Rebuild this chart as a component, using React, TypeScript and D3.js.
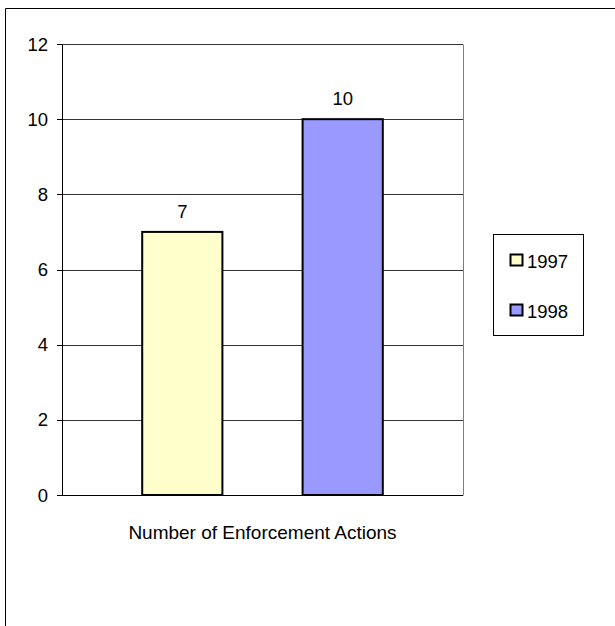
import React from "react";
import * as d3 from "d3";

const categories = ["Number of Enforcement Actions"];
const seriesNames = ["1997", "1998"];
const seriesValues = [7, 10];
const seriesColors = ["#FFFFCC", "#9999FF"];
const yTicks = [0, 2, 4, 6, 8, 10, 12];

const W = 615;
const H = 626;
const plot = { left: 62, top: 44, right: 463, bottom: 495 };
const FONT = "Arial, 'Liberation Sans', sans-serif";
const FS = 18.5;

export default function App() {
  const y = d3.scaleLinear().domain([0, 12]).range([plot.bottom, plot.top]);
  const x0 = d3.scaleBand().domain(categories).range([plot.left, plot.right]).padding(0);
  const c0 = x0(categories[0])!;
  const x1 = d3
    .scaleBand()
    .domain(seriesNames)
    .range([c0 + x0.bandwidth() / 5, c0 + (x0.bandwidth() * 4) / 5])
    .paddingInner(0.5);

  return (
    <svg
      width={W}
      height={H}
      style={{ position: "absolute", left: 0, top: 0, display: "block" }}
    >
      <rect x={0} y={0} width={W} height={H} fill="#fff" />
      {/* outer frame */}
      <line x1={5.5} y1={8.5} x2={W} y2={8.5} stroke="#000" strokeWidth={1} />
      <line x1={5.5} y1={8.5} x2={5.5} y2={H} stroke="#000" strokeWidth={1} />

      {/* gridlines */}
      {yTicks.map((t) => (
        <line
          key={"g" + t}
          x1={plot.left}
          x2={plot.right}
          y1={Math.round(y(t)) + 0.5}
          y2={Math.round(y(t)) + 0.5}
          stroke={t === 0 ? "#000" : "#333"}
          strokeWidth={1}
        />
      ))}
      {/* plot frame right */}
      <line x1={plot.right + 0.5} x2={plot.right + 0.5} y1={plot.top + 0.5} y2={plot.bottom + 0.5} stroke="#808080" strokeWidth={1} />
      {/* y axis */}
      <line x1={plot.left + 0.5} x2={plot.left + 0.5} y1={plot.top + 0.5} y2={plot.bottom + 0.5} stroke="#000" strokeWidth={1} />
      {yTicks.map((t) => (
        <g key={"t" + t}>
          <line
            x1={plot.left - 5}
            x2={plot.left}
            y1={Math.round(y(t)) + 0.5}
            y2={Math.round(y(t)) + 0.5}
            stroke="#000"
          />
          <text
            x={48}
            y={y(t)}
            dy="0.36em"
            textAnchor="end"
            fontFamily={FONT}
            fontSize={FS}
            fill="#000"
          >
            {t}
          </text>
        </g>
      ))}

      {/* bars */}
      {seriesNames.map((s, i) => {
        const bx = x1(s)!;
        const top = y(seriesValues[i]);
        return (
          <g key={"b" + s}>
            <rect
              x={bx}
              y={top}
              width={x1.bandwidth()}
              height={plot.bottom - top}
              fill={seriesColors[i]}
              stroke="#000"
              strokeWidth={2}
            />
            <text
              x={bx + x1.bandwidth() / 2}
              y={top - 14}
              textAnchor="middle"
              fontFamily={FONT}
              fontSize={FS}
              fill="#000"
            >
              {seriesValues[i]}
            </text>
          </g>
        );
      })}

      {/* category label */}
      <text
        x={c0 + x0.bandwidth() / 2}
        y={539}
        textAnchor="middle"
        fontFamily={FONT}
        fontSize={19}
        fill="#000"
      >
        {categories[0]}
      </text>

      {/* legend */}
      <rect x={493.5} y={234.5} width={90} height={101} fill="#fff" stroke="#000" strokeWidth={1} />
      {seriesNames.map((s, i) => (
        <g key={"l" + s}>
          <rect
            x={510.5}
            y={254.5 + i * 50}
            width={12}
            height={11}
            fill={seriesColors[i]}
            stroke="#000"
            strokeWidth={2}
          />
          <text x={527} y={268 + i * 50} fontFamily={FONT} fontSize={FS} fill="#000">
            {s}
          </text>
        </g>
      ))}
    </svg>
  );
}
